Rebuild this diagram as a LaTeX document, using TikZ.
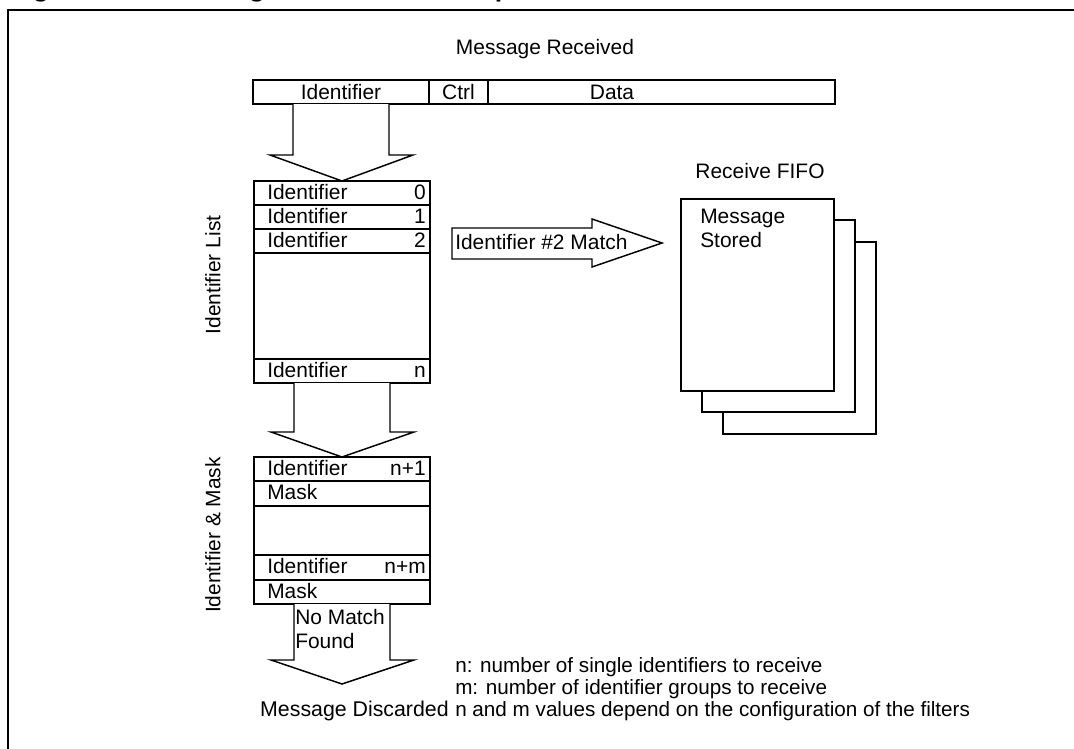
\documentclass[tikz,border=0pt]{standalone}
\usepackage{fontspec}
\setmainfont{Liberation Sans}
\usetikzlibrary{calc}
\newdimen\px \px=0.75pt
\begin{document}
\begin{tikzpicture}[x=0.75pt,y=-0.75pt,font=\fontsize{15.7}{19}\selectfont]
\tikzset{
 cell/.style={draw, line width=1.5pt, anchor=north west, inner sep=0pt, outer sep=0pt, minimum width=176\px},
 page/.style={draw, line width=1.5pt, fill=white, anchor=north west, inner sep=0pt, outer sep=0pt, minimum width=153\px, minimum height=192\px},
 bigarrow/.style={draw, line width=1.1pt, fill=white, line join=miter},
 lbl/.style={inner sep=0pt, anchor=base west},
 lble/.style={inner sep=0pt, anchor=base east},
 lblc/.style={inner sep=0pt, anchor=base},
 note/.style={inner sep=0pt, anchor=base west, font=\fontsize{15.5}{19}\selectfont},
}
\useasboundingbox (0,0) rectangle (1074,749);
\clip (0,0) rectangle (1074,749);
% title and frame
\node[lbl, font=\fontsize{20}{24}\selectfont\bfseries] (title) at (9,-3) {Figure 230. Filtering mechanism example};
\draw[line width=1.5pt] (8,10) rectangle (1100,800);
% message received
\node[lblc] (mr) at (545,55) {Message Received};
\node[cell, minimum width=176\px, minimum height=24\px] (bid) at (253,80) {};
\node[cell, minimum width=59\px, minimum height=24\px] (bctrl) at (429,80) {};
\node[cell, minimum width=347\px, minimum height=24\px] (bdata) at (488,80) {};
\node[lblc] (tid) at (bid.center |- 0,99) {Identifier};
\node[lblc] (tctrl) at (bctrl.center |- 0,99) {Ctrl};
\node[lblc] (tdata) at (612,99) {Data};
% identifier list
\node[cell, minimum height=24\px] (r0) at (254,181) {};
\node[cell, minimum height=24\px] (r1) at (254,205) {};
\node[cell, minimum height=24\px] (r2) at (254,229) {};
\node[cell, minimum height=106\px] (rm) at (254,253) {};
\node[cell, minimum height=24\px] (rn) at (254,359) {};
\foreach \r/\n in {r0/0,r1/1,r2/2,rn/n}{
  \node[lbl] (\r-a) at ($(\r.north west)+(13,18)$) {Identifier};
  \node[lble] (\r-b) at ($(\r.north east)+(-4,18)$) {\n};
}
\node[rotate=90, inner sep=0pt] (il) at (213,275) {Identifier List};
% arrow 1
\draw[bigarrow] ($(bid.south)+(-48,0)$) -- ($(bid.south)+(-48,51)$) -- ($(bid.south)+(-71,51)$)
  -- (r0.north) -- ($(bid.south)+(72,51)$) -- ($(bid.south)+(48,51)$) -- ($(bid.south)+(48,0)$);
% identifier & mask
\node[cell, minimum height=24\px] (m1) at (254,457) {};
\node[cell, minimum height=25\px] (m2) at (254,481) {};
\node[cell, minimum height=49\px, line width=1.8pt] (m3) at (254,506) {};
\node[cell, minimum height=25\px] (m4) at (254,555) {};
\node[cell, minimum height=24\px] (m5) at (254,580) {};
\node[lbl] (m1-a) at ($(m1.north west)+(13,18)$) {Identifier};
\node[lble] (m1-b) at ($(m1.north east)+(-4,18)$) {n+1};
\node[lbl] (m2-a) at ($(m2.north west)+(13,18)$) {Mask};
\node[lbl] (m4-a) at ($(m4.north west)+(13,18)$) {Identifier};
\node[lble] (m4-b) at ($(m4.north east)+(-4,18)$) {n+m};
\node[lbl] (m5-a) at ($(m5.north west)+(13,18)$) {Mask};
\node[rotate=90, inner sep=0pt] (im) at (213,535) {Identifier \& Mask};
% arrow 2
\draw[bigarrow] ($(rn.south)+(-48,0)$) -- ($(rn.south)+(-48,49)$) -- ($(rn.south)+(-71,49)$)
  -- (m1.north) -- ($(rn.south)+(72,49)$) -- ($(rn.south)+(48,49)$) -- ($(rn.south)+(48,0)$);
% arrow 3
\coordinate (tip3) at ($(m5.south)+(0,80)$);
\draw[bigarrow] ($(m5.south)+(-48,0)$) -- ($(m5.south)+(-48,56)$) -- ($(m5.south)+(-71,56)$)
  -- (tip3) -- ($(m5.south)+(72,56)$) -- ($(m5.south)+(48,56)$) -- ($(m5.south)+(48,0)$);
\node[lbl] (nm1) at (295,624) {No Match};
\node[lbl] (nm2) at (295,648) {Found};
\node[note, anchor=base east, font=\fontsize{16}{19}\selectfont] (md) at (449,716) {Message Discarded};
% notes
\node[note] (n1) at (455,672) {n: number of single identifiers to receive};
\node[note] (n2) at (455,694) {m: number of identifier groups to receive};
\node[note] (n3) at (455,716) {n and m values depend on the configuration of the filters};
% receive fifo
\node[lblc] (rf) at (760,178) {Receive FIFO};
\node[page] (p3) at (723,242) {};
\node[page] (p2) at (702,220) {};
\node[page] (p1) at (681,199) {};
\node[lbl] (ms1) at (700,223) {Message};
\node[lbl] (ms2) at (700,247) {Stored};
% match arrow
\draw[bigarrow] ($(r2.east)+(22,-13)$) -- ($(r2.east)+(162,-13)$) -- ($(r2.east)+(162,-22)$)
  -- ($(p1.west |- r2.east)+(-19,2)$) -- ($(r2.east)+(162,26)$) -- ($(r2.east)+(162,18)$)
  -- ($(r2.east)+(22,18)$) -- cycle;
\node[lbl] (mt) at ($(r2.east)+(25,8)$) {Identifier \#2 Match};
\end{tikzpicture}
\end{document}
